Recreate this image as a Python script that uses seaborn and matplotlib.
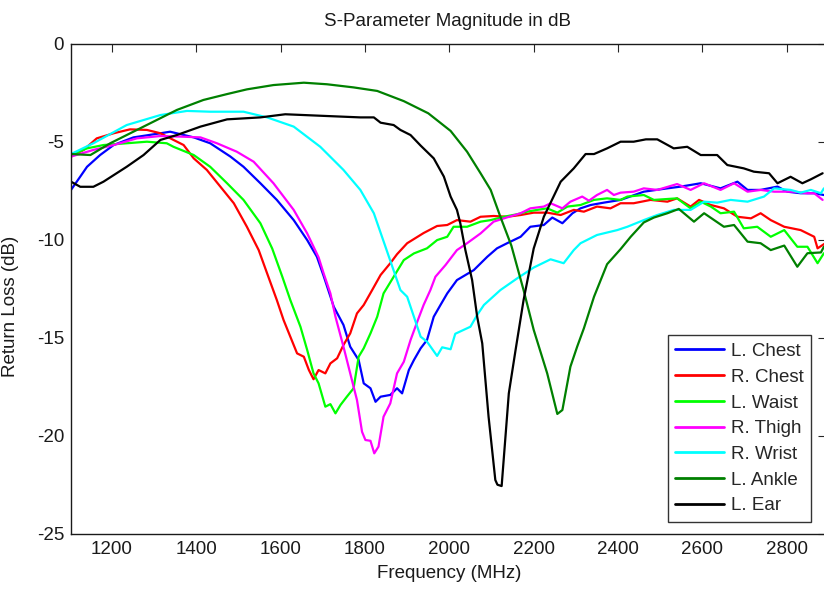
import matplotlib
matplotlib.use("Agg")
import matplotlib.pyplot as plt
import seaborn as sns
import pandas as pd

# ---------------- data ----------------
chest_l_freq = [1103,1125,1141,1172,1204,1251,1315,1338,1394,1433,1481,1512,1552,1591,1631,1663,1686,1702,1726,1749,1765,1785,1797,1813,1825,1837,1860,1876,1888,1904,1916,1932,1947,1963,1979,1995,2018,2058,2090,2113,2137,2169,2192,2224,2244,2268,2292,2311,2335,2366,2406,2461,2517,2549,2596,2643,2683,2707,2738,2778,2801,2833,2865,2888]
chest_l_db = [-7.46,-6.78,-6.28,-5.68,-5.17,-4.78,-4.57,-4.49,-4.78,-5.08,-5.76,-6.28,-7.12,-7.97,-9.0,-10.02,-10.87,-11.85,-13.42,-14.35,-15.46,-16.14,-17.33,-17.58,-18.27,-18.01,-17.92,-17.58,-17.84,-16.65,-16.14,-15.54,-15.12,-13.93,-13.33,-12.74,-12.06,-11.55,-10.87,-10.44,-10.18,-9.85,-9.34,-9.25,-8.87,-9.16,-8.65,-8.4,-8.23,-8.11,-7.97,-7.55,-7.38,-7.29,-7.12,-7.38,-7.04,-7.46,-7.46,-7.29,-7.55,-7.63,-7.63,-7.72]

chest_r_freq = [1103,1133,1164,1204,1243,1283,1315,1346,1370,1394,1425,1457,1489,1520,1548,1568,1591,1607,1623,1639,1655,1667,1678,1690,1706,1718,1734,1749,1765,1781,1797,1817,1837,1860,1876,1900,1939,1971,1995,2018,2050,2074,2105,2137,2169,2200,2232,2264,2295,2319,2350,2382,2406,2437,2477,2517,2540,2572,2592,2620,2651,2683,2715,2738,2762,2794,2833,2865,2873,2890]
chest_r_db = [-5.76,-5.42,-4.83,-4.57,-4.37,-4.4,-4.57,-4.91,-5.17,-5.85,-6.44,-7.29,-8.14,-9.34,-10.53,-11.72,-13.08,-14.1,-14.95,-15.8,-15.97,-16.65,-17.12,-16.65,-16.82,-16.31,-16.05,-15.37,-14.78,-13.76,-13.33,-12.57,-11.8,-11.2,-10.74,-10.18,-9.66,-9.3,-9.25,-9.0,-9.08,-8.83,-8.79,-8.83,-8.74,-8.62,-8.62,-8.74,-8.48,-8.57,-8.31,-8.4,-8.14,-8.14,-7.97,-8.06,-7.89,-8.31,-7.97,-8.23,-8.4,-8.83,-8.91,-8.65,-9.0,-9.34,-9.51,-9.85,-10.44,-10.2]

waist_l_freq = [1103,1141,1180,1235,1283,1330,1346,1394,1433,1473,1512,1552,1580,1604,1623,1647,1663,1678,1690,1706,1718,1730,1742,1757,1773,1785,1797,1813,1829,1844,1868,1892,1916,1947,1971,1995,2010,2042,2074,2098,2129,2161,2184,2208,2232,2256,2280,2311,2343,2374,2406,2422,2461,2485,2540,2572,2596,2620,2643,2675,2698,2730,2762,2794,2825,2849,2873,2888]
waist_l_db = [-5.68,-5.34,-5.17,-5.08,-5.0,-5.08,-5.26,-5.68,-6.28,-7.12,-7.97,-9.16,-10.45,-11.89,-13.08,-14.44,-15.63,-16.82,-17.33,-18.52,-18.39,-18.86,-18.43,-18.01,-17.58,-15.97,-15.54,-14.78,-13.93,-12.74,-11.89,-11.04,-10.7,-10.44,-10.02,-9.85,-9.34,-9.34,-9.08,-9.0,-8.83,-8.7,-8.57,-8.48,-8.4,-8.62,-8.31,-8.23,-7.97,-7.89,-7.97,-7.8,-7.72,-7.97,-7.89,-8.4,-8.06,-8.31,-8.65,-8.57,-9.42,-9.34,-9.85,-9.51,-10.36,-10.36,-11.2,-10.69]

thigh_r_freq = [1103,1156,1204,1259,1315,1362,1410,1449,1496,1536,1583,1631,1663,1690,1702,1718,1730,1749,1765,1781,1793,1801,1813,1822,1832,1844,1860,1876,1892,1908,1924,1939,1955,1967,1991,2018,2042,2074,2105,2137,2169,2192,2224,2240,2268,2287,2315,2331,2350,2374,2390,2406,2437,2461,2493,2540,2572,2604,2643,2675,2707,2738,2770,2789,2817,2849,2865,2885]
thigh_r_db = [-5.76,-5.42,-5.17,-4.83,-4.71,-4.74,-4.78,-5.08,-5.51,-6.02,-7.12,-8.48,-9.68,-10.9,-11.72,-12.74,-13.93,-15.46,-16.82,-18.18,-19.8,-20.22,-20.26,-20.9,-20.56,-19.03,-18.35,-16.82,-16.23,-15.12,-14.18,-13.33,-12.57,-11.89,-11.29,-10.53,-10.18,-9.68,-9.08,-8.86,-8.65,-8.4,-8.31,-8.14,-8.4,-8.06,-7.8,-8.01,-7.72,-7.46,-7.72,-7.6,-7.55,-7.38,-7.46,-7.16,-7.46,-7.12,-7.46,-7.12,-7.55,-7.46,-7.55,-7.55,-7.55,-7.63,-7.63,-7.97]

wrist_r_freq = [1103,1156,1235,1315,1378,1433,1512,1568,1631,1694,1749,1789,1821,1850,1884,1900,1932,1947,1971,1983,2003,2014,2050,2066,2082,2121,2161,2200,2240,2271,2295,2311,2350,2398,2422,2461,2493,2532,2572,2604,2635,2667,2707,2746,2770,2809,2833,2857,2881,2888]
wrist_r_db = [-5.63,-5.08,-4.15,-3.64,-3.43,-3.47,-3.47,-3.76,-4.23,-5.26,-6.44,-7.46,-8.65,-10.45,-12.57,-12.91,-14.95,-15.2,-15.93,-15.49,-15.59,-14.8,-14.44,-13.84,-13.33,-12.57,-11.97,-11.42,-11.0,-11.2,-10.53,-10.18,-9.76,-9.51,-9.34,-9.0,-8.74,-8.48,-8.48,-8.06,-8.11,-7.97,-8.06,-7.8,-7.38,-7.46,-7.6,-7.46,-7.63,-7.38]

ankle_l_freq = [1103,1149,1196,1275,1354,1417,1473,1520,1583,1655,1710,1773,1829,1892,1950,2003,2042,2074,2098,2121,2147,2176,2200,2232,2256,2268,2287,2303,2319,2343,2374,2406,2430,2461,2485,2517,2544,2580,2604,2651,2675,2707,2738,2762,2794,2825,2849,2881,2888]
ankle_l_db = [-5.63,-5.68,-5.08,-4.23,-3.38,-2.87,-2.57,-2.33,-2.11,-1.99,-2.07,-2.23,-2.41,-2.93,-3.55,-4.45,-5.51,-6.61,-7.46,-8.83,-10.3,-12.57,-14.6,-16.82,-18.89,-18.69,-16.48,-15.46,-14.52,-12.91,-11.25,-10.48,-9.85,-9.12,-8.87,-8.65,-8.43,-9.08,-8.65,-9.34,-9.25,-10.1,-10.18,-10.53,-10.3,-11.38,-10.69,-10.65,-10.36]

ear_l_freq = [1103,1125,1156,1180,1235,1275,1315,1354,1410,1473,1552,1611,1710,1789,1821,1837,1868,1884,1908,1932,1963,1987,2003,2018,2026,2038,2054,2066,2078,2093,2109,2114,2124,2141,2157,2176,2200,2224,2264,2295,2323,2343,2374,2406,2437,2466,2493,2532,2564,2596,2635,2659,2698,2722,2758,2778,2809,2837,2857,2885]
ear_l_db = [-7.04,-7.3,-7.3,-7.04,-6.28,-5.68,-4.91,-4.66,-4.23,-3.86,-3.76,-3.6,-3.69,-3.76,-3.76,-4.03,-4.15,-4.4,-4.66,-5.2,-5.85,-6.78,-7.8,-8.48,-9.16,-10.53,-12.06,-13.93,-15.29,-19.03,-22.26,-22.5,-22.57,-17.84,-15.63,-13.08,-10.45,-8.83,-7.04,-6.36,-5.63,-5.63,-5.34,-5.0,-5.0,-4.88,-4.88,-5.34,-5.26,-5.68,-5.68,-6.19,-6.36,-6.53,-6.61,-7.12,-6.79,-7.12,-6.92,-6.61]

series_names = ["L. Chest", "R. Chest", "L. Waist", "R. Thigh", "R. Wrist", "L. Ankle", "L. Ear"]
series_colors = ["#0000FF", "#FF0000", "#00FF00", "#FF00FF", "#00FFFF", "#008000", "#000000"]
x_ticks = [1200, 1400, 1600, 1800, 2000, 2200, 2400, 2600, 2800]
y_ticks = [0, -5, -10, -15, -20, -25]

# ---------------- build table ----------------
pairs = [(chest_l_freq, chest_l_db), (chest_r_freq, chest_r_db), (waist_l_freq, waist_l_db),
         (thigh_r_freq, thigh_r_db), (wrist_r_freq, wrist_r_db), (ankle_l_freq, ankle_l_db),
         (ear_l_freq, ear_l_db)]
frames = []
for name, (f, v) in zip(series_names, pairs):
    frames.append(pd.DataFrame({"Frequency": f, "Return Loss": v, "Location": name}))
df = pd.concat(frames, ignore_index=True)

# ---------------- style ----------------
sns.set_style("white")
plt.rcParams["font.family"] = ["Liberation Sans", "DejaVu Sans"]
FS = 13.5

W, H = 824, 592
fig = plt.figure(figsize=(W / 100, H / 100), dpi=100)
ax_left, ax_right, ax_top, ax_bot = 71, 826, 43.7, 533.7
ax = fig.add_axes([ax_left / W, 1 - ax_bot / H, (ax_right - ax_left) / W, (ax_bot - ax_top) / H])

sns.lineplot(data=df, x="Frequency", y="Return Loss", hue="Location",
             hue_order=series_names, palette=dict(zip(series_names, series_colors)),
             estimator=None, linewidth=1.6, ax=ax)

ax.set_xlim(1103, 2893)
ax.set_ylim(-25, 0)
ax.set_xticks(x_ticks)
ax.set_yticks(y_ticks)
ax.set_xticklabels([str(t) for t in x_ticks])
ax.set_yticklabels([str(t) for t in y_ticks])
ax.tick_params(direction="in", top=True, right=True, length=6, width=0.8,
               labelsize=FS, colors="#262626", labelcolor="#1a1a1a", pad=5)
for s in ax.spines.values():
    s.set_visible(True)
    s.set_color("#1a1a1a")
    s.set_linewidth(1.0)

ax.set_xlabel("")
ax.set_ylabel("Return Loss (dB)", fontsize=FS, color="#1a1a1a")
ax.yaxis.set_label_coords(-0.069, 0.463)
fig.text(449 / W, 1 - 578 / H, "Frequency (MHz)", ha="center", va="baseline",
         fontsize=FS, color="#1a1a1a")
fig.text(448 / W, 1 - 26 / H, "S-Parameter Magnitude in dB", ha="center", va="baseline",
         fontsize=FS, color="#1a1a1a")

handles, labels = ax.get_legend_handles_labels()
leg = ax.legend(handles, labels, loc="lower right",
                bbox_to_anchor=((811 - ax_left) / (ax_right - ax_left), (ax_bot - 522) / (ax_bot - ax_top)),
                borderaxespad=0, fontsize=FS, frameon=True, fancybox=False,
                handlelength=2.6, handletextpad=0.35, labelspacing=0.46, borderpad=0.4)
leg.get_frame().set_edgecolor("#000000")
leg.get_frame().set_linewidth(1.0)
for line in leg.get_lines():
    line.set_linewidth(2.0)

fig.savefig("out.png", dpi=100, facecolor="white")
